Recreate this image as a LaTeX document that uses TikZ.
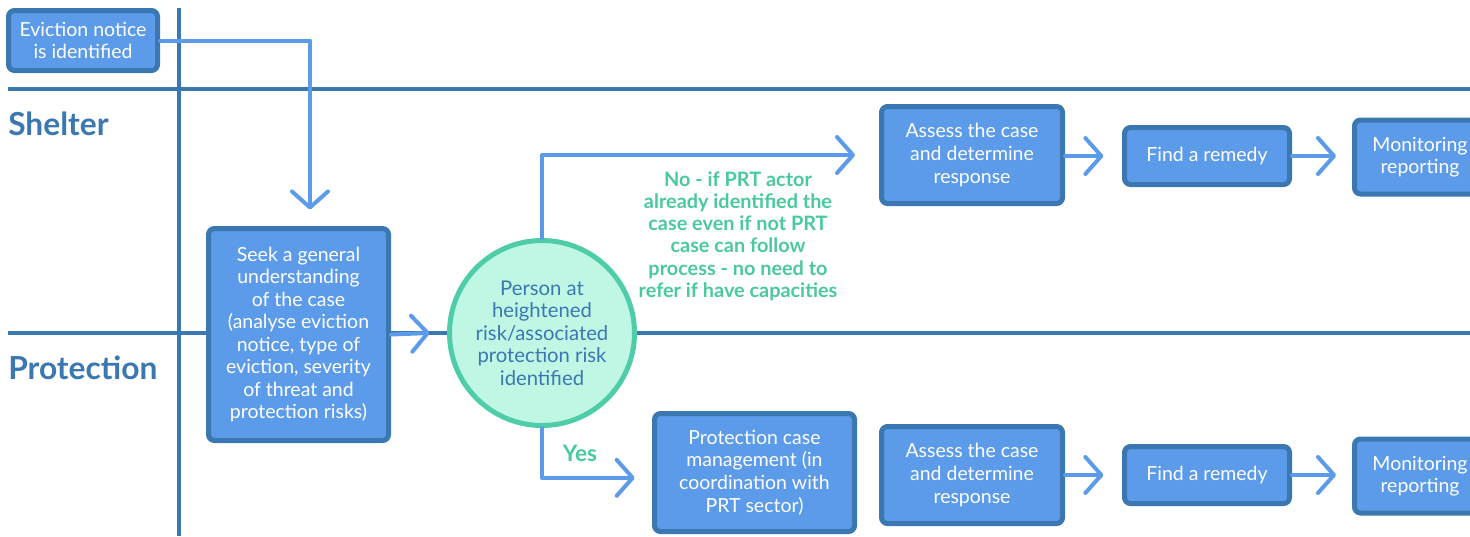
\documentclass[tikz,border=0pt]{standalone}
\usepackage{fontspec}
\setmainfont{Lato}
\usetikzlibrary{arrows.meta}

\definecolor{boxfill}{RGB}{92,155,233}
\definecolor{boxline}{RGB}{59,119,176}
\definecolor{riskfill}{RGB}{192,246,228}
\definecolor{riskline}{RGB}{78,205,168}
\definecolor{notegreen}{RGB}{74,200,160}

\begin{document}
\begin{tikzpicture}[x=0.75pt, y=-0.75pt,
    stepbox/.style={draw=boxline, fill=boxfill, line width=3.75pt, rounded corners=4.5pt,
        text=white, align=center, inner sep=0pt, font=\fontsize{14.6}{16.9}\selectfont},
    lane/.style={draw=boxline, line width=3pt},
    flow/.style={draw=boxfill, line width=3pt, line cap=round, line join=round,
        -{Straight Barb[length=12pt, width=27pt, round]}},
    note/.style={text=notegreen, align=center, font=\bfseries\fontsize{14.9}{16.7}\selectfont},
    lanetitle/.style={text=boxline, anchor=west, inner sep=0pt, font=\bfseries\fontsize{23.8}{28}\selectfont}]

\useasboundingbox (0,0) rectangle (1470,536);

% Draw the swim lanes
\draw[lane] (8,89) -- (1470,89);
\draw[lane] (8,333) -- (1470,333);
\draw[lane] (179,8) -- (179,536);
\node[lanetitle] (shelter) at (8,124) {Shelter};
\node[lanetitle] (protection) at (8,368) {Protection};

% Draw the first steps
\node[stepbox, minimum width=111.75pt, minimum height=45pt] (evict) at (83,40.5)
    {Eviction notice\\is identified};
\node[stepbox, minimum width=135pt, minimum height=159pt] (seek) at (298.5,334.5)
    {Seek a general\\understanding\\of the case\\(analyse eviction\\notice, type of\\eviction, severity\\of threat and\\protection risks)};

% Draw the decision circle
\node[circle, draw=riskline, fill=riskfill, line width=3.75pt, minimum size=138.75pt,
    inner sep=0pt, text=boxline, align=center, font=\fontsize{15.2}{16.9}\selectfont] (risk) at (542,333)
    {Person at\\heightened\\risk/associated\\protection risk\\identified};

% Shelter row
\node[stepbox, minimum width=135.75pt, minimum height=72.75pt] (assessS) at (972,155)
    {Assess the case\\and determine\\response};
\node[stepbox, minimum width=123.75pt, minimum height=42.75pt] (findS) at (1207,156)
    {Find a remedy};
\node[stepbox, minimum width=98.25pt, minimum height=55.5pt] (monitorS) at (1420,157)
    {Monitoring\\reporting};

% Protection row
\node[stepbox, minimum width=150pt, minimum height=88.5pt] (prot) at (754.5,472.5)
    {Protection case\\management (in\\coordination with\\PRT sector)};
\node[stepbox, minimum width=135.75pt, minimum height=72.75pt] (assessP) at (972,475)
    {Assess the case\\and determine\\response};
\node[stepbox, minimum width=123.75pt, minimum height=42.75pt] (findP) at (1207,475)
    {Find a remedy};
\node[stepbox, minimum width=98.25pt, minimum height=55.5pt] (monitorP) at (1420,476)
    {Monitoring\\reporting};

% Connectors
\draw[flow] (evict.east) -| ([xshift=8.6pt, yshift=12.4pt]seek.north);
\draw[flow] (seek.east) -- ([xshift=-13pt]risk.west);
\draw[flow] (risk.north) |- ([xshift=-18pt]assessS.west);
\draw[flow] (risk.south) |- ([xshift=-13pt, yshift=-4pt]prot.west);
\draw[flow] (findS.west -| assessS.east) -- ([xshift=-14pt]findS.west);
\draw[flow] (findS.east) -- ([xshift=-12pt]monitorS.west |- findS.east);
\draw[flow] (findP.west -| assessP.east) -- ([xshift=-14pt]findP.west);
\draw[flow] (findP.east) -- ([xshift=-12pt]monitorP.west |- findP.east);

% Decision labels
\node[note] (nolabel) at (738,236)
    {No - if PRT actor\\already identified the\\case even if not PRT\\case can follow\\process - no need to\\refer if have capacities};
\node[note, font=\bfseries\fontsize{17}{20}\selectfont] (yeslabel) at (580,453) {Yes};
\end{tikzpicture}
\end{document}
